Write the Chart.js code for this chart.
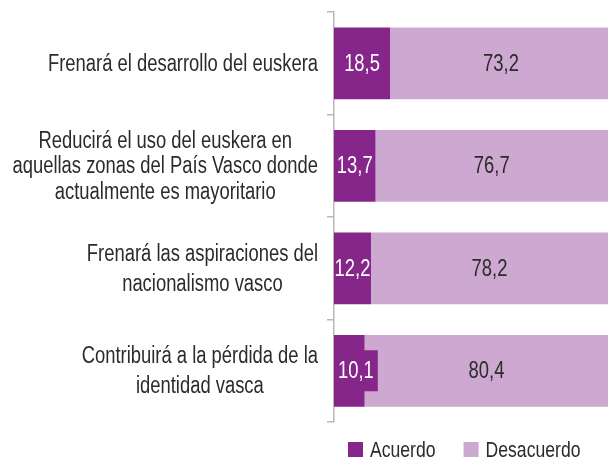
<!DOCTYPE html>
<html>
<head>
<meta charset="utf-8">
<script src="https://cdn.jsdelivr.net/npm/chart.js@4"></script>
<style>
  html, body { margin: 0; padding: 0; background: #fff; }
  #wrap { width: 608px; height: 459px; }
</style>
</head>
<body>
<div id="wrap"><canvas id="chart" width="608" height="459"></canvas></div>
<script>
// données
const categories = [
    ['Frenará el desarrollo del euskera'],
    ['Reducirá el uso del euskera en', 'aquellas zonas del País Vasco donde', 'actualmente es mayoritario'],
    ['Frenará las aspiraciones del', 'nacionalismo vasco'],
    ['Contribuirá a la pérdida de la', 'identidad vasca']
];
const seriesNames = ['Acuerdo', 'Desacuerdo'];
const acuerdo = [18.5, 13.7, 12.2, 10.1];
const desacuerdo = [73.2, 76.7, 78.2, 80.4];

const FONT = '"Liberation Sans", Arial, sans-serif';
const SQUEEZE = 0.8; // police condensée simulée
const DARK = '#86258a';
const LIGHT = '#cda8d0';
const TEXT = '#2b2b2b';

function textW(ctx, txt) {
    return ctx.measureText(txt).width * SQUEEZE;
}

function drawText(ctx, txt, x, y) {
    ctx.save();
    ctx.translate(x, y);
    ctx.scale(SQUEEZE, 1);
    ctx.fillText(txt, 0, 0);
    ctx.restore();
}

// libellés des catégories, centrés ligne par ligne
const catLabels = {
    id: 'catLabels',
    afterDraw(chart) {
        const ctx = chart.ctx;
        const yScale = chart.scales.y;
        ctx.save();
        ctx.font = '23px ' + FONT;
        ctx.fillStyle = TEXT;
        ctx.textAlign = 'center';
        ctx.textBaseline = 'middle';
        categories.forEach((lines, i) => {
            const cy = yScale.getPixelForValue(i);
            const w = Math.max(...lines.map(l => textW(ctx, l)));
            const cx = yScale.right - 16 - w / 2;
            const lh = lines.length > 2 ? 25.5 : 30;
            lines.forEach((l, j) => {
                drawText(ctx, l, cx, cy + 1 + (j - (lines.length - 1) / 2) * lh);
            });
        });
        ctx.restore();
    }
};

// valeurs dans les barres
const valueLabels = {
    id: 'valueLabels',
    afterDatasetsDraw(chart) {
        const ctx = chart.ctx;
        const area = chart.chartArea;
        ctx.save();
        ctx.font = '23px ' + FONT;
        ctx.textAlign = 'center';
        ctx.textBaseline = 'middle';
        chart.data.datasets.forEach((ds, di) => {
            const meta = chart.getDatasetMeta(di);
            meta.data.forEach((bar, i) => {
                const txt = ds.data[i].toFixed(1).replace('.', ',');
                const w = textW(ctx, txt);
                const barW = Math.abs(bar.x - bar.base);
                let x = (bar.x + bar.base) / 2;
                if (di === 0 && w > barW) {
                    const bw = w + 8, bh = 41;
                    const left = Math.max(x - bw / 2, area.left);
                    x = left + bw / 2;
                    ctx.fillStyle = ds.backgroundColor;
                    ctx.fillRect(left, bar.y - bh / 2, bw, bh);
                }
                ctx.fillStyle = di === 0 ? '#ffffff' : TEXT;
                drawText(ctx, txt, x, bar.y + 1);
            });
        });
        ctx.restore();
    }
};

// légende en bas
const bottomLegend = {
    id: 'bottomLegend',
    afterDraw(chart) {
        const ctx = chart.ctx;
        const area = chart.chartArea;
        ctx.save();
        ctx.font = '22px ' + FONT;
        ctx.textAlign = 'left';
        ctx.textBaseline = 'middle';
        let x = area.left + 14;
        const y = area.bottom + 27.5;
        chart.data.datasets.forEach(ds => {
            ctx.fillStyle = ds.backgroundColor;
            ctx.fillRect(x, y - 7.5, 15, 15);
            ctx.fillStyle = TEXT;
            drawText(ctx, ds.label, x + 22, y + 1);
            x += 22 + textW(ctx, ds.label) + 28;
        });
        ctx.restore();
    }
};

new Chart(document.getElementById('chart'), {
    type: 'bar',
    data: {
        labels: categories,
        datasets: [
            { label: seriesNames[0], data: acuerdo, backgroundColor: DARK },
            { label: seriesNames[1], data: desacuerdo, backgroundColor: LIGHT }
        ]
    },
    options: {
        indexAxis: 'y',
        responsive: false,
        animation: false,
        devicePixelRatio: 1,
        layout: { padding: { top: 12, right: 0, left: 0, bottom: 37 } },
        datasets: { bar: { barPercentage: 0.7, categoryPercentage: 1 } },
        scales: {
            x: { display: false, stacked: true, min: 0, max: 90.4 },
            y: {
                stacked: true,
                afterFit(scale) { scale.width = 334; },
                grid: { drawOnChartArea: false, drawTicks: true, tickLength: 7, color: '#b8b8b8', lineWidth: 1.5 },
                border: { display: true, color: '#b8b8b8', width: 1.5 },
                ticks: { display: false }
            }
        },
        plugins: {
            legend: { display: false },
            tooltip: { enabled: false }
        }
    },
    plugins: [catLabels, valueLabels, bottomLegend]
});
</script>
</body>
</html>
